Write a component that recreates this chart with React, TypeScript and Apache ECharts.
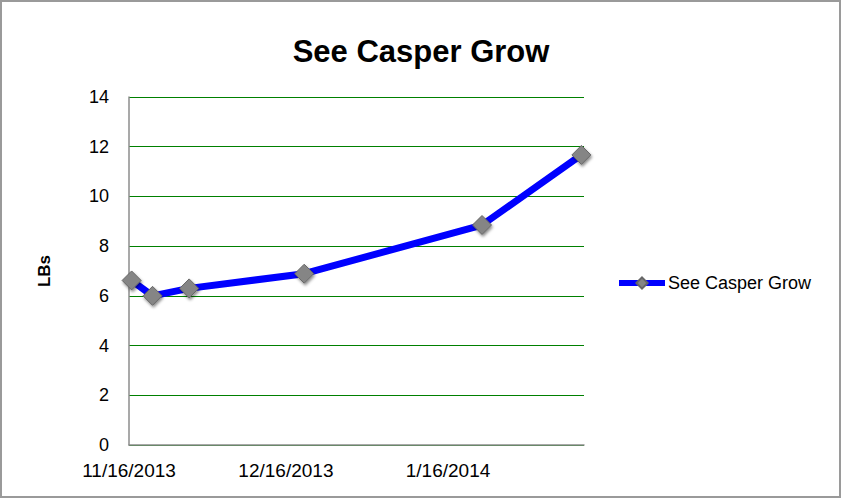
import React, { useEffect, useRef } from 'react';
import * as echarts from 'echarts';

// weigh-in dates and weights (lbs)
const dates = ['2013-11-16', '2013-11-20', '2013-11-27', '2013-12-19', '2014-01-22', '2014-02-10'];
const weights = [6.62, 6.0, 6.3, 6.89, 8.85, 11.67];
const labelDates = ['2013-11-16', '2013-12-16', '2014-01-16'];
const seriesName = 'See Casper Grow';

const DAY = 24 * 3600 * 1000;
const toTime = (s: string) => {
  const [y, m, d] = s.split('-').map(Number);
  return new Date(y, m - 1, d).getTime();
};
const fmt = (t: number) => {
  const d = new Date(t);
  return `${d.getMonth() + 1}/${d.getDate()}/${d.getFullYear()}`;
};

const FONT = 'Liberation Sans';

const App: React.FC = () => {
  const chartRef = useRef<HTMLDivElement>(null);

  useEffect(() => {
    if (!chartRef.current) return;
    const chart = echarts.init(chartRef.current, null, { renderer: 'svg' });

    // points sit in the middle of their day, like Excel's date axis
    const points = dates.map((d, i) => [toTime(d) + DAY / 2, weights[i]]);

    chart.setOption({
      animation: false,
      backgroundColor: '#fff',
      title: {
        text: seriesName,
        left: 'center',
        top: 31,
        textStyle: { fontFamily: FONT, fontSize: 31, fontWeight: 'bold', color: '#000' },
      },
      legend: {
        left: 616,
        top: 274,
        padding: 0,
        itemWidth: 46,
        itemHeight: 14,
        itemGap: 4,
        lineStyle: { width: 6 },
        textStyle: { fontFamily: FONT, fontSize: 18, color: '#000', padding: [0, 0, 0, -2] },
        data: [seriesName],
      },
      grid: { left: 129, right: 258, top: 97, bottom: 54 },
      xAxis: {
        type: 'value',
        min: toTime(dates[0]),
        max: toTime(dates[dates.length - 1]) + DAY,
        axisLine: { show: true, onZero: false, lineStyle: { color: '#8c8c8c', width: 1.5 } },
        axisTick: { show: false },
        splitLine: { show: false },
        axisLabel: {
          customValues: labelDates.map(toTime),
          formatter: (v: number) => fmt(v),
          fontFamily: FONT,
          fontSize: 19,
          color: '#000',
          margin: 16,
        },
      },
      yAxis: {
        type: 'value',
        min: 0,
        max: 14,
        interval: 2,
        name: 'LBs',
        nameLocation: 'middle',
        nameRotate: 90,
        nameGap: 76,
        nameTextStyle: { fontFamily: FONT, fontSize: 17, fontWeight: 'bold', color: '#000' },
        axisLine: { show: true, onZero: false, lineStyle: { color: '#8c8c8c', width: 1.5 } },
        axisTick: { show: false },
        splitLine: { show: true, lineStyle: { color: '#008000', width: 1.2 } },
        axisLabel: { fontFamily: FONT, fontSize: 18, color: '#000', margin: 20 },
      },
      graphic: [
        {
          type: 'rect',
          shape: { x: 1, y: 1, width: 839, height: 496 },
          style: { fill: 'none', stroke: '#9a9a9a', lineWidth: 2 },
          silent: true,
        },
      ],
      series: [
        {
          name: seriesName,
          type: 'line',
          data: points,
          symbol: 'diamond',
          symbolSize: 19,
          lineStyle: { color: '#0000ff', width: 7 },
          itemStyle: {
            color: '#858585',
            borderColor: '#666',
            borderWidth: 1,
            shadowBlur: 3,
            shadowColor: 'rgba(0,0,0,0.45)',
            shadowOffsetX: 1,
            shadowOffsetY: 2,
          },
          z: 3,
        },
      ],
    });

    return () => {
      chart.dispose();
    };
  }, []);

  return (
    <div
      ref={chartRef}
      style={{ position: 'absolute', left: 0, top: 0, width: '842px', height: '499px' }}
    />
  );
};

export default App;
